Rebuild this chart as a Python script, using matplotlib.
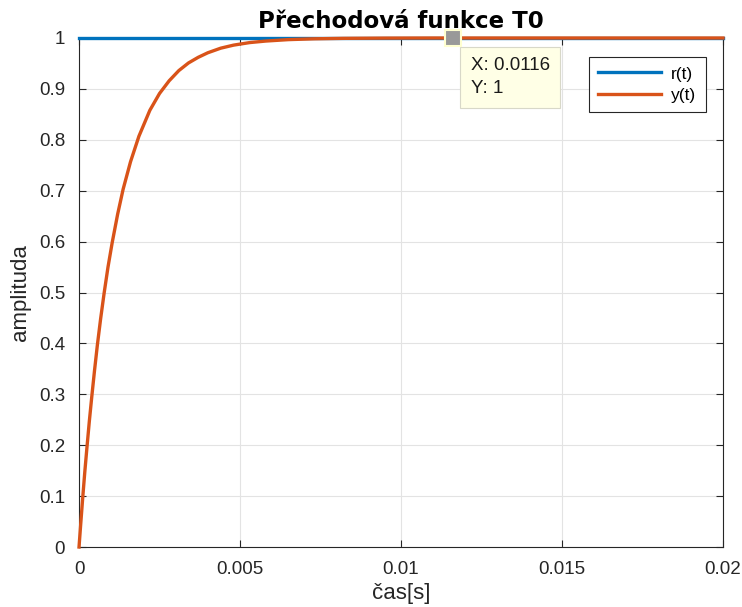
import matplotlib
matplotlib.use('Agg')
from matplotlib import pyplot as plt

# values
t_ref = [0.0, 0.02]
r_ref = [1.0, 1.0]

t_out = [0.0, 0.00005, 0.000115, 0.00018, 0.000248, 0.00032, 0.000394, 0.00048,
         0.00057, 0.00067, 0.00078, 0.0009, 0.00103, 0.0012, 0.00137, 0.0016,
         0.00186, 0.0022, 0.0025, 0.0028, 0.0031, 0.0034, 0.0037, 0.004,
         0.0044, 0.0048, 0.0053, 0.0058, 0.0065, 0.0073, 0.0082, 0.0095,
         0.011, 0.02]
y_out = [0.0, 0.043, 0.097, 0.148, 0.197, 0.247, 0.294, 0.346,
         0.397, 0.448, 0.499, 0.55, 0.598, 0.654, 0.703, 0.757,
         0.807, 0.858, 0.891, 0.916, 0.936, 0.951, 0.962, 0.971,
         0.98, 0.986, 0.991, 0.994, 0.9968, 0.9984, 0.9993, 0.9998,
         1.0, 1.0]

tip_x = 0.0116
tip_y = 1.0

x_ticks = [0, 0.005, 0.01, 0.015, 0.02]
x_tick_labels = ['0', '0.005', '0.01', '0.015', '0.02']
y_ticks = [0, 0.1, 0.2, 0.3, 0.4, 0.5, 0.6, 0.7, 0.8, 0.9, 1]
y_tick_labels = ['0', '0.1', '0.2', '0.3', '0.4', '0.5', '0.6', '0.7', '0.8', '0.9', '1']


def main():
    plt.rcParams['font.family'] = ['Liberation Sans', 'DejaVu Sans']
    fig = plt.figure(figsize=(7.42, 6.07), dpi=100)
    ax = fig.add_axes([0.1065, 0.0988, 0.8679, 0.8386])

    ax.plot(t_ref, r_ref, color='#0072BD', lw=2.4, label='r(t)', clip_on=False, zorder=3)
    ax.plot(t_out, y_out, color='#D95319', lw=2.4, label='y(t)', clip_on=False, zorder=4,
            solid_joinstyle='round')

    # data tip
    ax.plot([tip_x], [tip_y], marker='s', ms=11, mfc='#999999', mec='#FFFFD0',
            mew=1.5, zorder=6, clip_on=False)
    ax.annotate('X: 0.0116\nY: 1', xy=(tip_x, tip_y), xytext=(13, -14),
                textcoords='offset points', ha='left', va='top', fontsize=13.5,
                color='#1a1a1a', linespacing=1.45,
                bbox=dict(boxstyle='square,pad=0.55', fc='#FFFFE6', ec='#D8D8C8', lw=0.8))

    ax.set_xlim(0, 0.02)
    ax.set_ylim(0, 1)
    ax.set_xticks(x_ticks)
    ax.set_xticklabels(x_tick_labels)
    ax.set_yticks(y_ticks)
    ax.set_yticklabels(y_tick_labels)
    ax.tick_params(direction='in', length=5, width=0.8, labelsize=13.5,
                   colors='#262626', top=True, right=True, pad=10)
    for s in ax.spines.values():
        s.set_color('#262626')
        s.set_linewidth(0.8)
    ax.grid(True, color='#E3E3E3', lw=0.8)
    ax.set_axisbelow(True)

    ax.set_title('Přechodová funkce T0', fontsize=16.5, fontweight='bold',
                 family='DejaVu Sans', pad=7)
    ax.set_xlabel('čas[s]', fontsize=16, color='#262626', labelpad=4)
    ax.set_ylabel('amplituda', fontsize=16, color='#262626', labelpad=6)

    leg = ax.legend(loc='upper right', bbox_to_anchor=(0.987, 0.98), fontsize=12.5,
                    fancybox=False, framealpha=1, edgecolor='#262626',
                    handlelength=3.6, borderpad=0.55, labelspacing=0.35,
                    handletextpad=0.6)
    leg.get_frame().set_linewidth(0.8)

    fig.savefig('out.png', dpi=100)
    plt.close()


if __name__ == '__main__':
    main()
